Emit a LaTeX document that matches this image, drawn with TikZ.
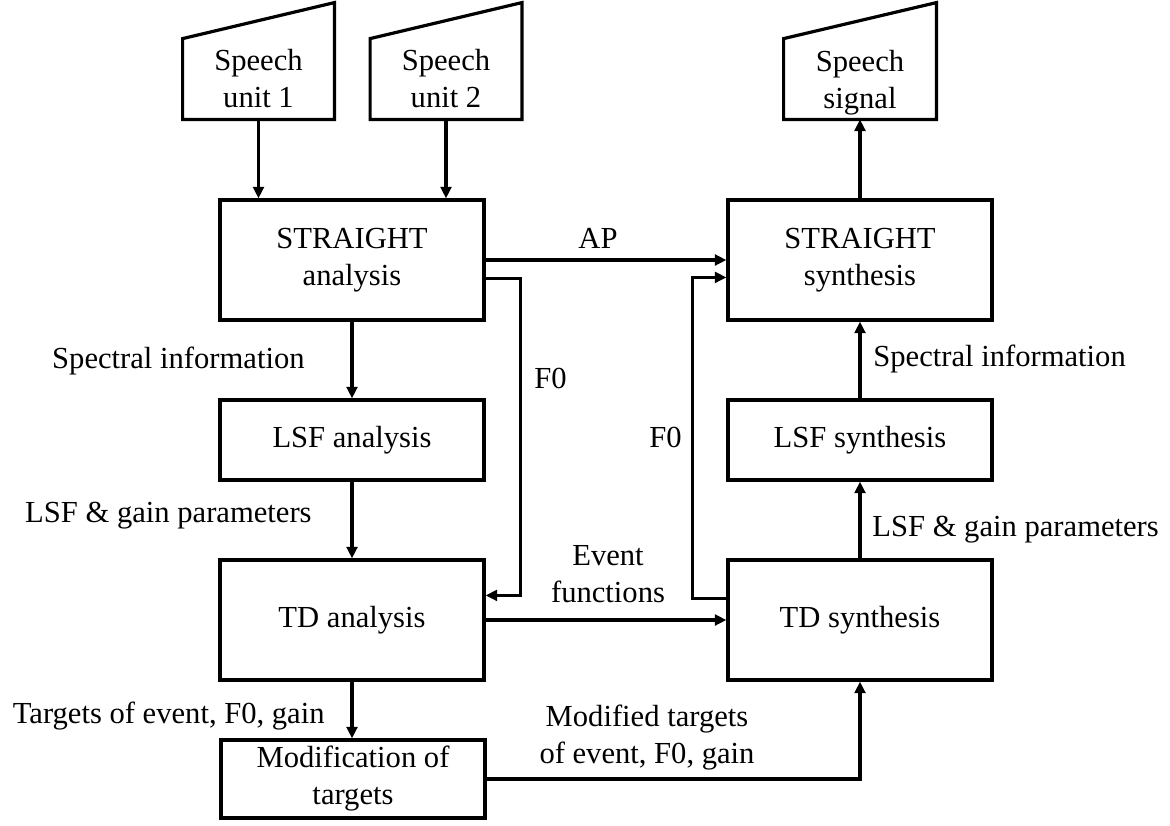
\documentclass[tikz,border=0pt]{standalone}
\usepackage{fontspec}
\setmainfont{Liberation Serif}
\usetikzlibrary{arrows.meta,calc}
\begin{document}
\begin{tikzpicture}[x=0.5pt,y=-0.5pt,
  every node/.style={font=\fontsize{15.3}{18.5}\selectfont, inner sep=0pt},
  blk/.style={draw, line width=1.6pt, inner sep=0pt, align=center},
  bigbox/.style={blk, minimum width=132pt, minimum height=60pt},
  smallbox/.style={blk, minimum width=132pt, minimum height=40pt},
  iobox/.style={minimum width=75.5pt, minimum height=40pt, align=center},
  iopath/.style={draw, line width=1.6pt},
  arr/.style={line width=1.6pt, -{Triangle[length=5.8pt,width=5.4pt]}}]
\useasboundingbox (0,0) rectangle (1170,825);

% input / output trapezoids
\node[iobox] (su1) at (258.5,79) {Speech\\unit 1};
\node[iobox] (su2) at (446,79) {Speech\\unit 2};
\node[iobox, minimum width=76pt, text depth=0pt] (sig) at (860,79) {Speech\\signal};
\foreach \n in {su1,su2,sig}{
  \path[iopath] (\n.south west) -- (\n.south east) -- ($(\n.north east)+(0,-36)$) -- (\n.north west) -- cycle;
}

% blocks
\node[bigbox] (sa) at (352,260) {STRAIGHT\\analysis};
\node[bigbox] (ss) at (860,260) {STRAIGHT\\synthesis};
\node[smallbox] (la) at (352,440) {LSF analysis};
\node[smallbox] (ls) at (860,440) {LSF synthesis};
\node[bigbox] (ta) at (352,620) {TD analysis};
\node[bigbox] (ts) at (860,620) {TD synthesis};
\node[blk, minimum width=132pt, minimum height=39pt] (mod) at (353,779) {Modification of\\targets};

% connectors
\draw[arr] (su1.south) -- (su1.south |- sa.north);
\draw[arr] (su2.south) -- (su2.south |- sa.north);
\draw[arr] (ss.north) -- (sig.south);
\draw[arr] (sa.east) -- (ss.west);
\draw[arr] ($(sa.north east)+(0,80)$) -- ++(35,0) |- ($(ta.north east)+(0,37)$);
\draw[arr] ($(ts.north west)+(0,40)$) -- ++(-34,0) |- ($(ss.north west)+(0,79)$);
\draw[arr] (sa.south) -- (la.north);
\draw[arr] (la.south) -- (ta.north);
\draw[arr] (ta.south) -- (ta.south |- mod.north);
\draw[arr] (ta.east) -- (ts.west);
\draw[arr] (mod.east) -| (ts.south);
\draw[arr] (ts.north) -- (ls.south);
\draw[arr] (ls.north) -- (ss.south);

% labels
\node[anchor=base east] (l1) at (305,368) {Spectral information};
\node[anchor=base east] (l2) at (312,522) {LSF \& gain parameters};
\node[anchor=base west] (l3) at (872,536) {LSF \& gain parameters};
\node[anchor=base west] (l4) at (873,366) {Spectral information};
\node[anchor=base] (l5) at (598,248) {AP};
\node[anchor=base west] (l6) at (534,388) {F0};
\node[anchor=base east] (l7) at (682,447) {F0};
\node[anchor=base east] (l8) at (325,723) {Targets of event, F0, gain};
\node[align=center] (l9) at (608,574) {Event\\functions};
\node[align=center] (l10) at (647,738) {Modified targets\\of event, F0, gain};
\end{tikzpicture}
\end{document}
